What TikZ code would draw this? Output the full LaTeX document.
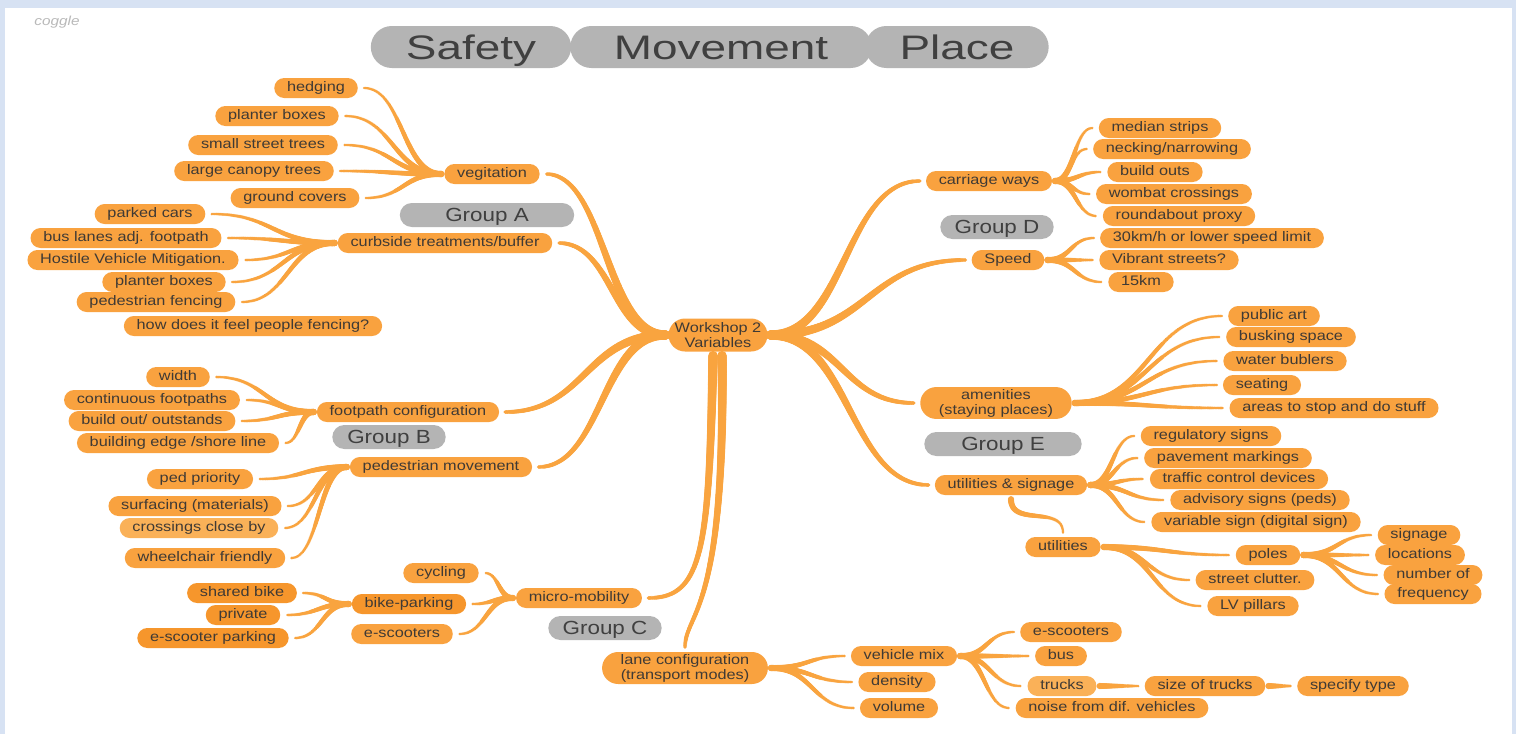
\documentclass[tikz,border=0pt]{standalone}
\usepackage{fontspec}
\setmainfont{Liberation Sans}[FakeStretch=1.18]
\newfontfamily\titlefont{Liberation Sans}[FakeStretch=1.35]
\usetikzlibrary{calc,shapes.misc,decorations.markings}
\definecolor{bgblue}{HTML}{D7E2F3}
\definecolor{org}{HTML}{F9A23F}
\definecolor{orgd}{HTML}{F6962C}
\definecolor{orgl}{HTML}{FAB158}
\definecolor{brcol}{HTML}{F9A43F}
\definecolor{pillgray}{HTML}{B4B4B4}
\definecolor{txt}{HTML}{3F3A35}
\definecolor{gtxt}{HTML}{404040}
\tikzset{
 leaf/.style={rounded rectangle, fill=org, text=txt, font=\fontsize{13.8}{15}\selectfont,
   inner xsep=10.5pt, inner ysep=0pt, minimum height=20pt, text height=9.8pt, text depth=2.9pt},
 two/.style={rounded rectangle, fill=org, text=txt, align=center,
   font=\fontsize{13.8}{15}\selectfont, inner xsep=10.5pt, inner ysep=2pt, minimum height=33pt},
 grp/.style={rounded rectangle, fill=pillgray, text=gtxt, font=\fontsize{19}{20}\selectfont,
   minimum height=24pt, inner ysep=0pt, text height=13.6pt, text depth=0pt},
 ttl/.style={rounded rectangle, fill=pillgray, text=gtxt, font=\titlefont\fontsize{34}{36}\selectfont,
   minimum height=42pt, inner ysep=0pt, text height=24.4pt, text depth=0pt},
 taper/.style n args={2}{postaction={decorate, decoration={markings,
   mark=between positions 0 and 1 step 1.1pt with {%
     \pgfmathsetmacro\tapr{#1-(#1-#2)*\pgfkeysvalueof{/pgf/decoration/mark info/distance from start}/\pgfdecoratedpathlength}%
     \fill[brcol] (0,0) circle (\tapr pt);}}}},
 br/.style={taper={3.1}{1.3}},
 mainbr/.style={taper={4.8}{1.9}},
}
\newcommand\hcurve[1]{\coordinate (bM) at ($(bP)!0.5!(bC)$);
  \path[#1] (bP) .. controls (bM |- bP) and (bM |- bC) .. (bC);}
\newcommand\lbr[3][br]{\coordinate (bP) at ($(#2.west)+(-3,0)$);
  \coordinate (bC) at ($(#3.east)+(6,0)$);\hcurve{#1}}
\newcommand\rbr[3][br]{\coordinate (bP) at ($(#2.east)+(3,0)$);
  \coordinate (bC) at ($(#3.west)+(-6,0)$);\hcurve{#1}}
\begin{document}
\begin{tikzpicture}[x=1pt,y=-1pt]
\fill[bgblue] (0,0) rectangle (1516,734);
\fill[white] (5,8) rectangle (1512,734);
\useasboundingbox (0,0) rectangle (1516,734);

\node[text=gray!55, font=\fontsize{13}{13}\selectfont\itshape] (cg) at (57,22) {coggle};

% titles
\node[ttl, minimum width=308pt] (tM) at (721,47) {Movement};
\node[ttl, minimum width=207pt] (tS) at (471,47) {Safety};
\node[ttl, minimum width=190pt] (tP) at (957,47) {Place};

% groups
\node[grp, minimum width=181pt] (gA) at (487,215) {Group A};
\node[grp, minimum width=120pt] (gB) at (389,437) {Group B};
\node[grp, minimum width=120pt] (gC) at (605,628) {Group C};
\node[grp, minimum width=120pt] (gD) at (997,227) {Group D};
\node[grp, minimum width=164pt] (gE) at (1003,444) {Group E};

% center
\node[two, minimum width=120pt] (ws) at (718,335) {Workshop 2\\Variables};

% group A
\node[leaf] (veg) at (492,174) {vegitation};
\node[leaf] (hedg) at (316,88) {hedging};
\node[leaf] (pb1) at (277,116) {planter boxes};
\node[leaf] (sst) at (263,145) {small street trees};
\node[leaf] (lct) at (254,171) {large canopy trees};
\node[leaf] (gcov) at (295,198) {ground covers};
\node[leaf] (curb) at (445,243) {curbside treatments/buffer};
\node[leaf] (park) at (150,214) {parked cars};
\node[leaf] (bus1) at (126,238) {bus lanes adj. footpath};
\node[leaf] (hvm) at (133,260) {Hostile Vehicle Mitigation.};
\node[leaf] (pb2) at (164,282) {planter boxes};
\node[leaf] (pfen) at (156,302) {pedestrian fencing};
\node[leaf] (hdf) at (253,326) {how does it feel people fencing?};

% group B
\node[leaf] (fpc) at (408,412) {footpath configuration};
\node[leaf] (wid) at (178,377) {width};
\node[leaf] (cfp) at (152,400) {continuous footpaths};
\node[leaf] (bout) at (152,421) {build out/ outstands};
\node[leaf] (bedge) at (178,443) {building edge /shore line};
\node[leaf] (pedm) at (441,467) {pedestrian movement};
\node[leaf] (pedp) at (200,479) {ped priority};
\node[leaf] (surf) at (195,506) {surfacing (materials)};
\node[leaf, fill=orgl] (cross) at (199,528) {crossings close by};
\node[leaf] (wheel) at (205,558) {wheelchair friendly};

% group C
\node[leaf] (cyc) at (441,573) {cycling};
\node[leaf] (micro) at (579,598) {micro-mobility};
\node[leaf, fill=orgd] (bikep) at (409,604) {bike-parking};
\node[leaf] (escl) at (402,634) {e-scooters};
\node[leaf, fill=orgd] (shb) at (242,593) {shared bike};
\node[leaf, fill=orgd] (priv) at (243,615) {private};
\node[leaf, fill=orgd] (escp) at (213,638) {e-scooter parking};
\node[two, minimum height=32pt] (lane) at (685,668) {lane configuration\\(transport modes)};
\node[leaf] (vmix) at (904,656) {vehicle mix};
\node[leaf] (dens) at (897,682) {density};
\node[leaf] (vol) at (899,708) {volume};
\node[leaf] (escr) at (1071,632) {e-scooters};
\node[leaf] (bus2) at (1061,656) {bus};
\node[leaf, fill=orgl] (trk) at (1062,686) {trucks};
\node[leaf] (sot) at (1205,686) {size of trucks};
\node[leaf] (spec) at (1353,686) {specify type};
\node[leaf] (noise) at (1112,708) {noise from dif. vehicles};

% group D
\node[leaf] (carr) at (989,181) {carriage ways};
\node[leaf] (med) at (1160,128) {median strips};
\node[leaf] (neck) at (1172,149) {necking/narrowing};
\node[leaf] (bo) at (1155,172) {build outs};
\node[leaf] (wom) at (1174,194) {wombat crossings};
\node[leaf] (round) at (1179,216) {roundabout proxy};
\node[leaf] (speed) at (1008,260) {Speed};
\node[leaf] (s30) at (1212,238) {30km/h or lower speed limit};
\node[leaf] (vib) at (1169,260) {Vibrant streets?};
\node[leaf] (k15) at (1141,282) {15km};

% amenities
\node[two, minimum height=30pt] (amen) at (996,403) {amenities\\(staying places)};
\node[leaf] (part) at (1274,316) {public art};
\node[leaf] (busk) at (1291,337) {busking space};
\node[leaf] (water) at (1285,361) {water bublers};
\node[leaf] (seat) at (1262,385) {seating};
\node[leaf] (areas) at (1334,408) {areas to stop and do stuff};

% group E
\node[leaf] (uts) at (1011,485) {utilities \& signage};
\node[leaf] (reg) at (1211,436) {regulatory signs};
\node[leaf] (pave) at (1228,458) {pavement markings};
\node[leaf] (traf) at (1239,479) {traffic control devices};
\node[leaf] (adv) at (1260,500) {advisory signs (peds)};
\node[leaf] (var) at (1256,522) {variable sign (digital sign)};
\node[leaf] (util) at (1063,547) {utilities};
\node[leaf] (poles) at (1268,555) {poles};
\node[leaf] (sclut) at (1255,580) {street clutter.};
\node[leaf] (lvp) at (1253,606) {LV pillars};
\node[leaf] (sig) at (1419,535) {signage};
\node[leaf] (loc) at (1420,555) {locations};
\node[leaf] (numof) at (1433,575) {number of};
\node[leaf] (freq) at (1433,594) {frequency};

% ---- connectors ----
\lbr[mainbr]{ws}{veg}
\lbr[mainbr]{ws}{curb}
\lbr[mainbr]{ws}{fpc}
\lbr[mainbr]{ws}{pedm}
\rbr[mainbr]{ws}{carr}
\rbr[mainbr]{ws}{speed}
\rbr[mainbr]{ws}{amen}
\rbr[mainbr]{ws}{uts}
\path[mainbr] ($(ws.south)+(-5,4)$) .. controls ($(ws.south)+(-9,200)$) and ($(micro.east)+(60,0)$) .. ($(micro.east)+(6,0)$);
\path[mainbr] ($(ws.south)+(4,4)$) .. controls ($(ws.south)+(8,265)$) and ($(lane.north)+(0,-40)$) .. ($(lane.north)+(0,-4)$);
\path[br] ($(uts.south)+(0,4)$) .. controls ($(uts.south)+(0,32)$) and ($(util.north)+(0,-32)$) .. ($(util.north)+(0,-4)$);

\foreach \c in {hedg,pb1,sst,lct,gcov} {\lbr{veg}{\c}}
\foreach \c in {park,bus1,hvm,pb2,pfen} {\lbr{curb}{\c}}
\foreach \c in {wid,cfp,bout,bedge} {\lbr{fpc}{\c}}
\foreach \c in {pedp,surf,cross,wheel} {\lbr{pedm}{\c}}
\foreach \c in {cyc,bikep,escl} {\lbr{micro}{\c}}
\foreach \c in {shb,priv,escp} {\lbr{bikep}{\c}}
\foreach \c in {vmix,dens,vol} {\rbr{lane}{\c}}
\foreach \c in {escr,bus2,trk,noise} {\rbr{vmix}{\c}}
\rbr{trk}{sot}
\rbr{sot}{spec}
\foreach \c in {med,neck,bo,wom,round} {\rbr{carr}{\c}}
\foreach \c in {s30,vib,k15} {\rbr{speed}{\c}}
\foreach \c in {part,busk,water,seat,areas} {\rbr{amen}{\c}}
\foreach \c in {reg,pave,traf,adv,var} {\rbr{uts}{\c}}
\foreach \c in {poles,sclut,lvp} {\rbr{util}{\c}}
\foreach \c in {sig,loc,numof,freq} {\rbr{poles}{\c}}
\end{tikzpicture}
\end{document}
